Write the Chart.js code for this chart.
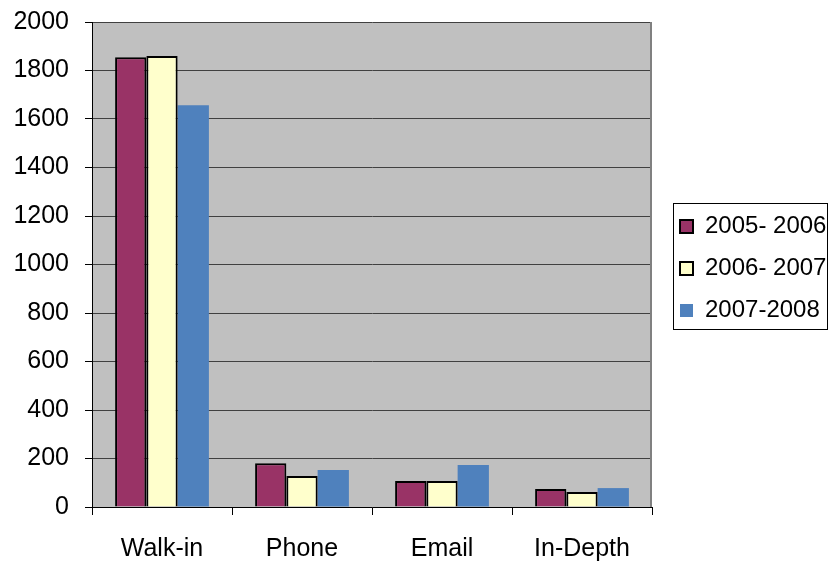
<!DOCTYPE html>
<html>
<head>
<meta charset="utf-8">
<script src="https://cdn.jsdelivr.net/npm/chart.js@4/dist/chart.umd.min.js"></script>
<style>
  html, body { margin: 0; padding: 0; background: #fff; }
</style>
</head>
<body>
<canvas id="grafico" width="829" height="561"></canvas>
<script>
const categorias = ["Walk-in", "Phone", "Email", "In-Depth"];
const series = ["2005- 2006", "2006- 2007", "2007-2008"];
const valores_2005 = [1855, 180, 107, 74];
const valores_2006 = [1860, 128, 107, 62];
const valores_2007 = [1657, 153, 173, 78];
const cores = ["#993366", "#ffffcc", "#4f81bd"];
const fonte = "'Liberation Sans', Arial, sans-serif";

// fundo cinza da area do grafico e moldura da legenda
const moldura = {
    id: 'moldura',
    beforeLayout(chart) {
        const l = chart.legend;
        if (l && !l._ajustada) {
            const fitOriginal = l.fit.bind(l);
            l.fit = function () { fitOriginal(); this.width = 177; };
            l._ajustada = true;
        }
    },
    afterLayout(chart) {
        const l = chart.legend;
        if (l) { l.left += 10; l.right += 10; l.top += 4; l.bottom += 4; }
    },
    beforeDraw(chart) {
        const a = chart.chartArea, ctx = chart.ctx;
        ctx.save();
        ctx.fillStyle = "#c0c0c0";
        ctx.fillRect(a.left, a.top, a.right - a.left, a.bottom - a.top);
        ctx.restore();
    },
    afterDraw(chart) {
        const a = chart.chartArea, ctx = chart.ctx, l = chart.legend;
        ctx.save();
        ctx.strokeStyle = "#808080";
        ctx.lineWidth = 2;
        ctx.beginPath();
        ctx.moveTo(a.right - 1, a.top);
        ctx.lineTo(a.right - 1, a.bottom);
        ctx.stroke();
        const hb = l.legendHitBoxes;
        if (hb && hb.length) {
            const x0 = Math.round(hb[0].left - 7) + 0.5;
            const y0 = Math.round(hb[0].top - 12) + 0.5;
            const y1 = Math.round(hb[hb.length - 1].top + 30) + 0.5;
            ctx.strokeStyle = "#000";
            ctx.lineWidth = 1;
            ctx.strokeRect(x0, y0, chart.width - 1.5 - x0, y1 - y0);
        }
        ctx.restore();
    }
};

const ctx = document.getElementById('grafico').getContext('2d');
new Chart(ctx, {
    type: 'bar',
    data: {
        labels: categorias,
        datasets: [
            { label: series[0], data: valores_2005, backgroundColor: cores[0], borderColor: "#000", borderWidth: 2 },
            { label: series[1], data: valores_2006, backgroundColor: cores[1], borderColor: "#000", borderWidth: 2 },
            { label: series[2], data: valores_2007, backgroundColor: cores[2], borderWidth: 0 }
        ]
    },
    options: {
        responsive: false,
        animation: false,
        devicePixelRatio: 1,
        layout: { padding: { top: 22, left: 0, right: 0, bottom: 0 } },
        datasets: { bar: { categoryPercentage: 0.67, barPercentage: 1 } },
        plugins: {
            legend: {
                position: 'right',
                fullSize: false,
                labels: {
                    font: { family: fonte, size: 24 },
                    color: "#000",
                    boxWidth: 13,
                    boxHeight: 13,
                    padding: 18
                }
            },
            tooltip: { enabled: false }
        },
        scales: {
            x: {
                afterFit(scale) { scale.height = 54; },
                grid: { drawOnChartArea: false, color: "#000", tickLength: 8 },
                border: { color: "#000", width: 1 },
                ticks: { color: "#000", font: { family: fonte, size: 25 }, padding: 19, maxRotation: 0 }
            },
            y: {
                min: 0, max: 2000,
                afterFit(scale) { scale.width = 92; scale.paddingTop = 0; scale.paddingBottom = 0; },
                grid: { color: "#404040", tickColor: "#000", tickLength: 7, lineWidth: 1 },
                border: { color: "#000", width: 1 },
                ticks: {
                    stepSize: 200, color: "#000", padding: 16,
                    font: { family: fonte, size: 25 },
                    callback: v => String(v)
                }
            }
        }
    },
    plugins: [moldura]
});
</script>
</body>
</html>
